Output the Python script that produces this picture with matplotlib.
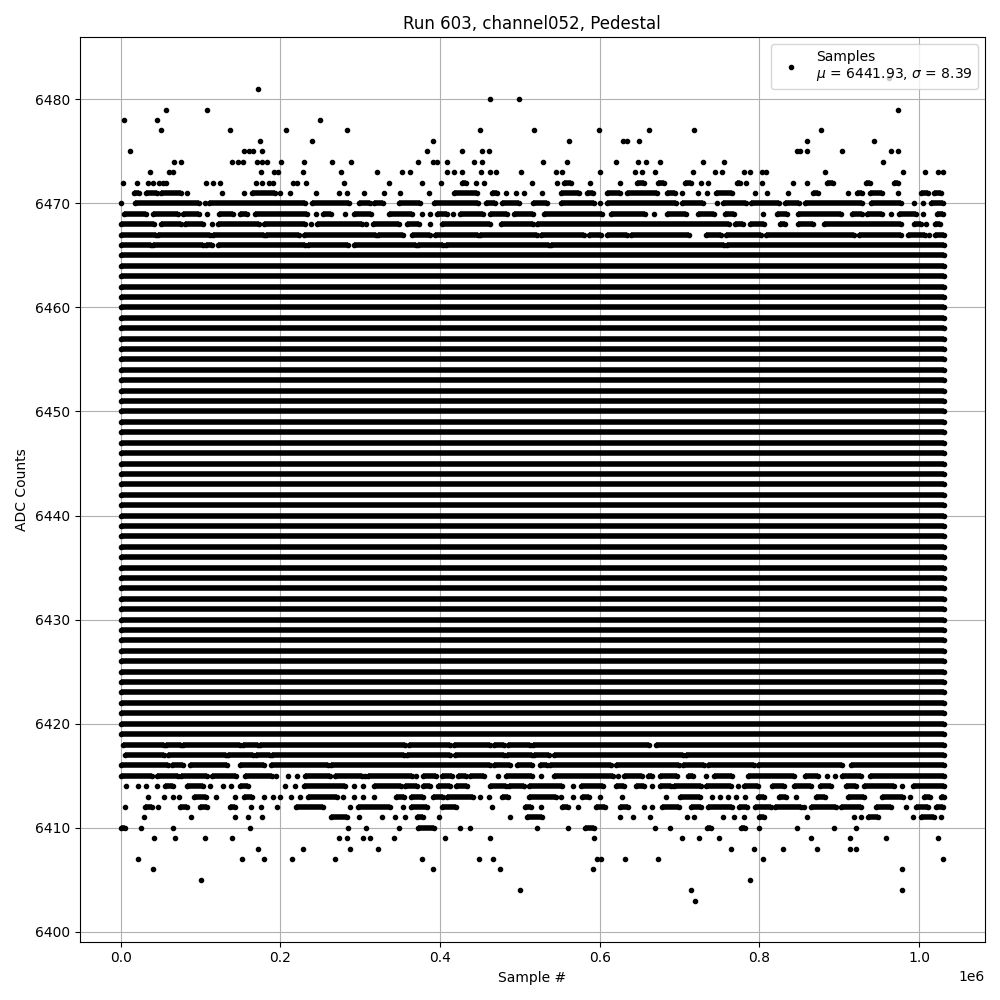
"""Pedestal scan of one ADC channel: every sample plotted against its index."""
import numpy as np
import matplotlib
matplotlib.use("Agg")
import matplotlib.pyplot as plt

# Sample positions in thousands of samples.
# A plain number is an isolated hit, a tuple (first, last) is a run of hits.
FIRST_SAMPLE, LAST_SAMPLE = 0, 1031
dense_levels = list(range(6419, 6466))   # ADC codes hit all the way across

adc_6482 = [962]
adc_6481 = [172]
adc_6480 = [463, 499]
adc_6479 = [57, 108, 973]
adc_6478 = [4, 46, 250]
adc_6477 = [51, 137, 207, 283, 450, 518, 599, 662, 718, 877]
adc_6476 = [174, 239, 391, 561, 629, 634, 649, 860, 944]
adc_6475 = [12, 155, 161, 166, 177, 384, 427, 453, 461, 847, 851, 859, 903, 965, 973]
adc_6474 = [67, 75, 140, 147, 153, 171, 177, 183, 201, 229, 265, 288, 373, 391, 396,
            409, 442, 453, 529, 559, 620, 648, 658, 676, 729, 756, 955]
adc_6473 = [37, 61, 65, 176, 192, 197, 228, 276, 321, 352, 362, 409, 418, 428, 451, 462,
            470, 502, 545, 553, 600, 644, 653, 669, 717, 745, 753, 781, 788, 803, 808,
            882, 980, 1008, 1024, 1030]
adc_6472 = [3, 20, 34, 41, 48, 53, 57, 107, 116, 124, 169, 177, 186, 191, 216, 221, 232,
            280, 336, 378, 401, (427, 432), 445, 455, 515, 547, (555, 564), 588, 625,
            (647, 655), (673, 680), (707, 714), 727, 736, (772, 776), 783, 803, 842, 859,
            (885, 892), (933, 939), (968, 974)]
adc_6471 = [(17, 23), (32, 45), (51, 76), 83, 127, 154, (165, 193), 200, 212, 245, 274,
            284, 305, 330, 350, 386, (417, 446), (465, 471), 482, 495, 505, 528, (551, 574),
            (584, 591), (609, 626), (634, 672), (684, 694), 703, 723, 734, (746, 766), 794,
            810, 836, (867, 874), 911, (922, 929), (939, 953), 973, (1002, 1011), (1019, 1028)]
adc_6470 = [1, (18, 98), 105, (110, 231), (240, 286), (299, 312), (317, 328), (348, 375),
            (392, 448), (457, 469), (478, 499), (517, 534), (551, 593), 600, (609, 696),
            (703, 729), 747, (755, 783), (789, 824), (832, 850), (857, 929), (940, 977),
            994, 1005, (1015, 1030)]
adc_6469 = [(4, 32), (41, 72), (78, 98), 108, (123, 141), (149, 158), (168, 233), 245,
            (253, 263), 281, (292, 313), (336, 365), 378, 387, (396, 409), 416, (425, 454),
            (462, 484), (492, 517), (530, 603), (614, 657), 668, (684, 708), (723, 743),
            (757, 768), 804, (822, 834), (848, 902), (916, 929), (935, 954), 965, (975, 996),
            1005, (1023, 1030)]
adc_6468 = [(0, 42), (51, 76), (80, 103), 114, (122, 173), (179, 231), 238, (246, 302), 307,
            (316, 349), (358, 374), 387, (402, 463), (476, 517), (522, 762), (769, 779),
            (788, 806), (826, 832), (848, 867), (881, 977), (994, 1002), 1009, (1020, 1026)]
adc_6467 = [(1, 44), (47, 112), (116, 179), (182, 223), (230, 320), (322, 354), (365, 388),
            (394, 448), (450, 522), (526, 580), (586, 601), (609, 634), (639, 712), (733, 752),
            (758, 802), (808, 919), (925, 977), (986, 1007), 1013, (1020, 1031)]
adc_6466 = [(0, 38), (41, 103), (107, 114), (122, 231), (234, 285), (292, 370), (373, 404),
            (407, 536), (539, 756), (760, 1031)]

adc_6418 = [(3, 54), (57, 76), (78, 149), (153, 172), (175, 356), (361, 413), (417, 463),
            (467, 480), (485, 513), (517, 662), (670, 1031)]
adc_6417 = [(6, 54), (59, 132), (135, 166), (170, 187), (190, 355), (359, 413), (419, 480),
            (484, 515), (518, 536), (543, 704), (708, 1031)]
adc_6416 = [(0, 59), (64, 78), (87, 133), (149, 179), (188, 260), (264, 463), (467, 488),
            (497, 515), (525, 534), (538, 614), (620, 699), (704, 730), (735, 793), (798, 904),
            (915, 1031)]
adc_6415 = [(0, 39), (46, 72), (76, 108), (114, 145), (156, 189), 195, 209, 221, (231, 262),
            (269, 302), 306, (310, 365), 370, (379, 395), (402, 415), (422, 432), (437, 455),
            473, (482, 515), 526, (543, 617), 623, (630, 653), (660, 666), (676, 697),
            (710, 717), 733, (743, 766), (786, 843), (857, 873), 885, 895, (904, 927), (938, 1031)]
adc_6414 = [7, 22, 32, 46, (55, 66), (83, 103), 112, 128, 138, (149, 160), 206, 218, (230, 281),
            292, 304, (317, 351), (356, 371), (379, 388), (398, 412), (420, 434), (462, 482),
            (486, 505), (512, 553), 566, (576, 604), (620, 630), (645, 655), 665, (676, 689),
            (693, 727), (733, 764), 773, (781, 798), (816, 831), (843, 865), (876, 890),
            (908, 921), (931, 969), 978, (992, 1031)]
adc_6413 = [34, 54, 65, 73, (92, 107), 120, 143, (155, 164), 180, 191, 200, 213, 224, (235, 271),
            278, 292, 304, 317, (345, 355), (364, 379), (391, 404), (409, 441), 450, 461,
            (478, 485), (511, 545), 552, 566, (578, 586), 600, 628, 683, (701, 726), 740, 751,
            761, 771, 782, (798, 806), (825, 833), 846, (871, 882), (911, 931), (954, 980), 988,
            (1006, 1014), (1028, 1031)]
adc_6412 = [6, (30, 39), 47, (74, 83), (99, 108), (137, 143), 163, 176, 196, (220, 254), 287,
            (297, 337), 353, (363, 384), (402, 420), 465, (507, 514), 526, (553, 560), 573,
            (595, 607), (626, 635), 655, 665, (678, 699), (714, 727), (735, 766), (775, 784),
            (795, 814), (819, 852), 856, (865, 896), (902, 927), (946, 965), 984, (996, 1011),
            (1021, 1030)]
adc_6411 = [29, 88, 143, 160, 177, (264, 283), 298, 327, 344, 356, (371, 379), 399, 487,
            (509, 528), 625, 642, 663, 709, 718, 755, 768, 781, (799, 806), 860, 918, 927,
            (936, 949), 992, (1003, 1019), 1027]
adc_6410 = [(1, 6), 26, 66, 162, 285, 307, 348, (373, 393), 425, 437, 521, 560, (582, 593),
            669, 688, (734, 739), (777, 782), 800, 847, 894, 921]
adc_6409 = [42, 68, 106, 140, 274, 284, 303, 312, 342, 406, 463, 593, 703, 724, 750, 864,
            914, 958, 1024]
adc_6408 = [172, 228, 287, 322, 765, 793, 830, 872, 914, 921]
adc_6407 = [22, 152, 179, 215, 268, 378, 449, 466, 596, 602, 632, 673, 805, 1030]
adc_6406 = [41, 391, 475, 591, 979]
adc_6405 = [100, 788]
adc_6404 = [500, 714, 979]
adc_6403 = [719]

mu, sigma = 6441.93, 8.39

rows = {
    6482: adc_6482, 6481: adc_6481, 6480: adc_6480, 6479: adc_6479, 6478: adc_6478,
    6477: adc_6477, 6476: adc_6476, 6475: adc_6475, 6474: adc_6474, 6473: adc_6473,
    6472: adc_6472, 6471: adc_6471, 6470: adc_6470, 6469: adc_6469, 6468: adc_6468,
    6467: adc_6467, 6466: adc_6466,
    6418: adc_6418, 6417: adc_6417, 6416: adc_6416, 6415: adc_6415, 6414: adc_6414,
    6413: adc_6413, 6412: adc_6412, 6411: adc_6411, 6410: adc_6410, 6409: adc_6409,
    6408: adc_6408, 6407: adc_6407, 6406: adc_6406, 6405: adc_6405, 6404: adc_6404,
    6403: adc_6403,
}
for lvl in dense_levels:
    rows[lvl] = [(FIRST_SAMPLE, LAST_SAMPLE)]

# split into isolated points and runs (runs drawn as thick strokes with dots at the ends)
pts_x, pts_y, seg_x, seg_y = [], [], [], []
for level, hits in rows.items():
    for h in hits:
        if isinstance(h, tuple):
            s, e = h
            seg_x += [s, e, np.nan]
            seg_y += [level, level, np.nan]
            pts_x += [s, e]
            pts_y += [level, level]
        else:
            pts_x.append(h)
            pts_y.append(level)

pts_x = np.array(pts_x, dtype=float) * 1e3
seg_x = np.array(seg_x, dtype=float) * 1e3

fig, ax = plt.subplots(figsize=(10, 10))
ax.plot(seg_x, seg_y, "-", color="k", lw=4, solid_capstyle="butt")
ax.plot(pts_x, pts_y, "k.", label=f"Samples\n$\\mu$ = {mu:.2f}, $\\sigma$ = {sigma:.2f}")
ax.set_title("Run 603, channel052, Pedestal")
ax.set_xlabel("Sample #")
ax.set_ylabel("ADC Counts")
ax.legend(loc="upper right")
ax.grid(True)
fig.tight_layout()
fig.savefig("out.png", dpi=100)
plt.close(fig)
